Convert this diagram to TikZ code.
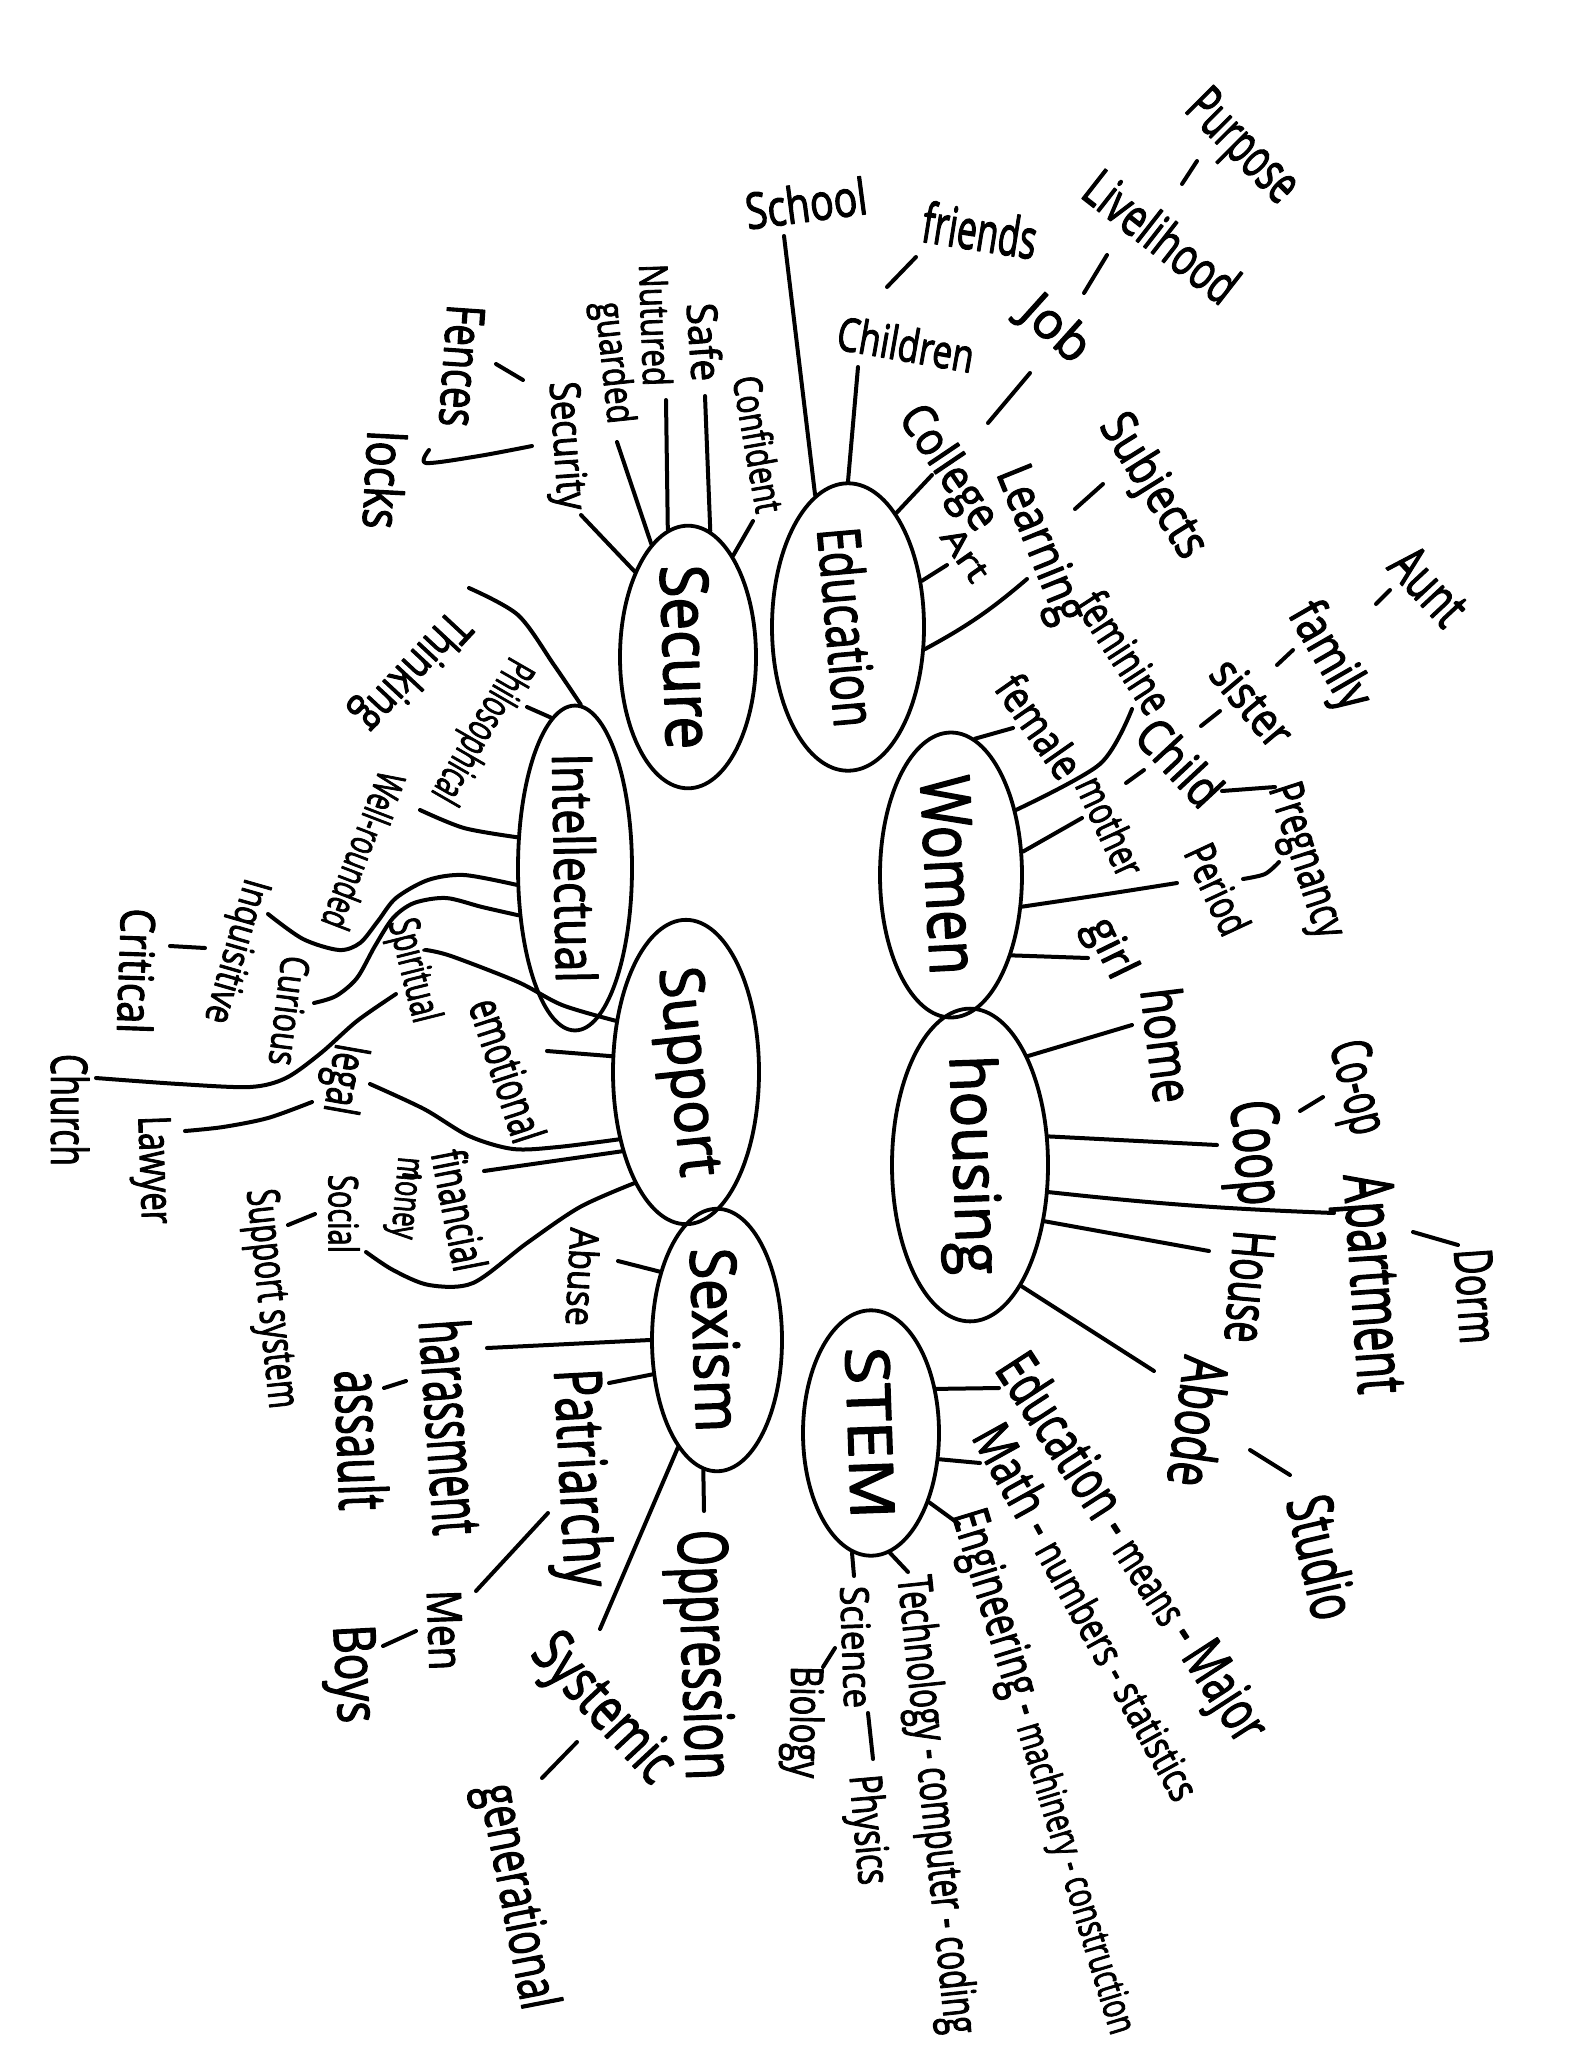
\documentclass[tikz,border=0pt]{standalone}
\usepackage{fontspec}
\setmainfont{Open Sans}[FakeBold=2.5]
\usepackage{graphicx}
\usetikzlibrary{shapes.geometric}
\newcommand{\W}[3]{\resizebox{#1pt}{#2pt}{\vphantom{l}#3}}
\begin{document}
\begin{tikzpicture}[x=1pt,y=-1pt,line width=4pt,line cap=round,line join=round,
  bub/.style={draw,ellipse,inner sep=0pt,line width=3.8pt},
  lbl/.style={inner sep=0pt}]
\fill[white] (0,0) rectangle (1570,2048);
\path[use as bounding box] (0,0) rectangle (1570,2048);

% ---------- bubbles ----------
\node[bub,minimum width=152pt,minimum height=266pt] (edu) at (848,627) {\rotatebox{-85}{\W{200}{45}{Education}}};
\node[bub,minimum width=136pt,minimum height=226pt] (sec) at (688,657) {\rotatebox{-88}{\W{184}{50}{Secure}}};
\node[bub,minimum width=114pt,minimum height=256pt] (intl) at (575,868) {\rotatebox{-89}{\W{229}{42}{Intellectual}}};
\node[bub,minimum width=142pt,minimum height=252pt] (wom) at (951,875) {\rotatebox{-87}{\W{199}{52}{Women}}};
\node[bub,minimum width=146pt,minimum height=262pt] (sup) at (686,1072) {\rotatebox{-84}{\W{210}{46}{Support}}};
\node[bub,minimum width=156pt,minimum height=282pt] (hou) at (970,1165) {\rotatebox{-88}{\W{219}{48}{housing}}};
\node[bub,minimum width=130pt,minimum height=244pt] (sex) at (717,1340) {\rotatebox{-88}{\W{184}{48}{Sexism}}};
\node[bub,minimum width=136pt,minimum height=240pt] (stem) at (871,1433) {\rotatebox{-88}{\W{172}{46}{STEM}}};

% ---------- labels: top / right ----------
\node[lbl,rotate=7.5] (school) at (806,203) {\W{122}{38}{School}};
\node[lbl,rotate=-9] (friends) at (980,230) {\W{115}{42}{friends}};
\node[lbl,rotate=-10] (children) at (906,344) {\W{138}{35}{Children}};
\node[lbl,rotate=-45] (purpose) at (1241,148) {\W{135}{42}{Purpose}};
\node[lbl,rotate=-38] (livelihood) at (1162,236) {\W{180}{40}{Livelihood}};
\node[lbl,rotate=-42] (job) at (1055,330) {\W{75}{38}{Job}};
\node[lbl,rotate=-56] (college) at (947,469) {\W{140}{36}{College}};
\node[lbl,rotate=-55] (art) at (966,554) {\W{58}{25}{Art}};
\node[lbl,rotate=-68] (learning) at (1039,545) {\W{165}{38}{Learning}};
\node[lbl,rotate=-58] (subjects) at (1152,487) {\W{160}{38}{Subjects}};
\node[lbl,rotate=-47] (aunt) at (1430,585) {\W{85}{42}{Aunt}};
\node[lbl,rotate=-60] (family) at (1328,657) {\W{115}{40}{family}};
\node[lbl,rotate=-50] (sister) at (1253,702) {\W{100}{36}{sister}};
\node[lbl,rotate=-57] (feminine) at (1125,652) {\W{135}{35}{feminine}};
\node[lbl,rotate=-55] (female) at (1040,726) {\W{115}{34}{female}};
\node[lbl,rotate=-47] (child) at (1180,762) {\W{100}{38}{Child}};
\node[lbl,rotate=-72] (pregnancy) at (1305,861) {\W{160}{36}{Pregnancy}};
\node[lbl,rotate=-65] (mother) at (1111,826) {\W{105}{32}{mother}};
\node[lbl,rotate=-65] (period) at (1218,889) {\W{95}{33}{Period}};
\node[lbl,rotate=-64] (girl) at (1109,949) {\W{62}{34}{girl}};
\node[lbl,rotate=-83] (home) at (1168,1045) {\W{115}{42}{home}};
\node[lbl,rotate=-76] (coopb) at (1355,1088) {\W{95}{42}{Co-op}};
\node[lbl,rotate=-85] (coop) at (1252,1153) {\W{105}{50}{Coop}};
\node[lbl,rotate=-86] (apartment) at (1369,1284) {\W{220}{52}{Apartment}};
\node[lbl,rotate=-86] (dorm) at (1477,1296) {\W{95}{40}{Dorm}};
\node[lbl,rotate=-95] (house) at (1251,1287) {\W{112}{44}{House}};
\node[lbl,rotate=-98] (abode) at (1199,1422) {\W{130}{47}{Abode}};
\node[lbl,rotate=-77] (studio) at (1323,1557) {\W{125}{48}{Studio}};
\node[lbl,rotate=-57] (major) at (1129,1550) {\W{450}{44}{Education - \scalebox{0.75}{means} - Major}};
\node[lbl,rotate=-61] (math) at (1090,1611) {\W{420}{40}{Math - \scalebox{0.8}{numbers - statistics}}};
\node[lbl,rotate=-73] (eng) at (1044,1772) {\W{545}{38}{Engineering - \scalebox{0.8}{machinery - construction}}};
\node[lbl,rotate=-84] (tech) at (934,1805) {\W{460}{36}{Technology - computer - coding}};
\node[lbl,rotate=-88] (science) at (857,1647) {\W{122}{30}{Science}};
\node[lbl,rotate=-85] (physics) at (866,1830) {\W{110}{34}{Physics}};
\node[lbl,rotate=-91] (biology) at (802,1722) {\W{112}{34}{Biology}};

% ---------- labels: left / bottom ----------
\node[lbl,rotate=-88] (oppression) at (700,1655) {\W{250}{52}{Oppression}};
\node[lbl,rotate=-47] (systemic) at (602,1710) {\W{180}{46}{Systemic}};
\node[lbl,rotate=-79] (generational) at (515,1897) {\W{228}{42}{generational}};
\node[lbl,rotate=-87] (patriarchy) at (577,1478) {\W{218}{50}{Patriarchy}};
\node[lbl,rotate=-88] (men) at (446,1630) {\W{80}{36}{Men}};
\node[lbl,rotate=-87] (boys) at (351,1674) {\W{98}{44}{Boys}};
\node[lbl,rotate=-86] (harassment) at (452,1427) {\W{215}{52}{harassment}};
\node[lbl,rotate=-88] (assault) at (362,1440) {\W{140}{50}{assault}};
\node[lbl,rotate=-93] (abuse) at (583,1277) {\W{98}{30}{Abuse}};
\node[lbl,rotate=-79] (financial) at (460,1210) {\W{122}{36}{financial}};
\node[lbl,rotate=-95] (money) at (405,1198) {\W{82}{29}{money}};
\node[lbl,rotate=-90] (social) at (344,1214) {\W{78}{31}{Social}};
\node[lbl,rotate=-84] (supsys) at (270,1299) {\W{220}{34}{Support system}};
\node[lbl,rotate=-88] (lawyer) at (152,1170) {\W{108}{34}{Lawyer}};
\node[lbl,rotate=-90] (church) at (70,1110) {\W{112}{38}{Church}};
\node[lbl,rotate=-100] (legal) at (342,1079) {\W{70}{36}{legal}};
\node[lbl,rotate=-72] (emotional) at (508,1070) {\W{148}{36}{emotional}};
\node[lbl,rotate=-76] (spiritual) at (412,971) {\W{105}{32}{Spiritual}};
\node[lbl,rotate=-97] (curious) at (290,1011) {\W{110}{30}{Curious}};
\node[lbl,rotate=-106] (inquisitive) at (235,951) {\W{148}{30}{Inquisitive}};
\node[lbl,rotate=-92] (critical) at (137,971) {\W{125}{36}{Critical}};
\node[lbl,rotate=-111] (wellrounded) at (364,851) {\W{165}{30}{Well-rounded}};
\node[lbl,rotate=-120] (philosophical) at (480,730) {\W{160}{32}{Philosophical}};
\node[lbl,rotate=-133] (thinking) at (410,670) {\W{145}{36}{Thinking}};
\node[lbl,rotate=-80] (confident) at (759,444) {\W{138}{30}{Confident}};
\node[lbl,rotate=-86] (safe) at (705,342) {\W{78}{32}{Safe}};
\node[lbl,rotate=-88] (nutured) at (656,325) {\W{122}{30}{Nutured}};
\node[lbl,rotate=-84] (guarded) at (612,363) {\W{122}{30}{guarded}};
\node[lbl,rotate=-86] (security) at (565,446) {\W{128}{32}{Security}};
\node[lbl,rotate=-94] (fences) at (463,366) {\W{122}{40}{Fences}};
\node[lbl,rotate=-93] (locks) at (385,480) {\W{98}{40}{locks}};

% ---------- Education connectors ----------
\draw (edu.104) -- (784,236);
\draw (edu.90) -- (858,367);
\draw (edu.67) -- (932,475);
\draw (edu.32) -- (947,565);
\draw (edu.-16) to[bend right=6] (1027,579);
\draw (887,287) -- (916,257);
\draw (988,423) -- (1030,373);
\draw (1084,293) -- (1107,255);
\draw (1182,184) -- (1197,161);
\draw (1075,509) -- (1103,484);

% ---------- Secure connectors ----------
\draw (sec.66) -- (753,521);
\draw (sec.80) -- (705,396);
\draw (sec.99) -- (666,400);
\draw (sec.108) -- (617,442);
\draw (sec.122) -- (581,515);
\draw (496,364) -- (523,380);
\draw plot[smooth] coordinates {(429,450) (426,463) (479,456) (532,446)};

% ---------- Intellectual connectors ----------
\draw plot[smooth] coordinates {(469,588) (518,615) (554,665) (intl.88)};
\draw (intl.99) -- (527,707);
\draw plot[smooth] coordinates {(420,810) (464,828) (intl.152)};
\draw plot[smooth] coordinates {(intl.196) (464,875) (428,880) (396,898) (378,921) (360,943) (339,950) (303,939) (268,914)};
\draw plot[smooth] coordinates {(intl.220) (482,907) (446,898) (414,903) (393,918) (375,946) (357,978) (336,996) (314,1003)};
\draw (170,946) -- (205,948);

% ---------- Support connectors ----------
\draw plot[smooth] coordinates {(426,950) (451,956) (518,982) (562,1005) (sup.144)};
\draw plot[smooth] coordinates {(396,994) (357,1021) (321,1053) (286,1078) (250,1087) (179,1084) (96,1078)};
\draw (sup.168) -- (547,1051);
\draw plot[smooth] coordinates {(370,1084) (424,1109) (469,1136) (513,1149) (558,1147) (sup.225)};
\draw plot[smooth] coordinates {(185,1131) (223,1127) (268,1118) (312,1102)};
\draw (sup.231) -- (484,1171);
\draw plot[smooth] coordinates {(sup.245) (580,1207) (527,1243) (473,1283) (429,1285) (393,1270) (366,1252)};
\draw (288,1225) -- (315,1214);
\draw (404,1175) -- (420,1177);

% ---------- Sexism connectors ----------
\draw (sex.130) -- (618,1261);
\draw (sex.180) -- (487,1348);
\draw (384,1388) -- (406,1381);
\draw (sex.208) -- (609,1383);
\draw (476,1591) -- (548,1513);
\draw (383,1646) -- (416,1631);
\draw (sex.250) -- (600,1629);
\draw (542,1778) -- (577,1742);
\draw (sex.264) -- (704,1511);

% ---------- STEM connectors ----------
\draw (stem.34) -- (999,1388);
\draw (stem.-21) -- (980,1463);
\draw (stem.-50) -- (959,1524);
\draw (stem.-81) -- (908,1572);
\draw (stem.-99) -- (854,1576);
\draw (868,1713) -- (873,1759);
\draw (823,1667) -- (835,1648);

% ---------- housing connectors ----------
\draw (hou.62) -- (1132,1025);
\draw (1300,1111) -- (1323,1097);
\draw (hou.20) -- (1217,1145);
\draw (hou.-19) to[bend right=2] (1334,1213);
\draw (1413,1232) -- (1458,1245);
\draw (hou.-37) -- (1209,1251);
\draw (hou.-67) -- (1154,1371);
\draw (1250,1450) -- (1290,1475);

% ---------- Women connectors ----------
\draw (wom.80) -- (1013,728);
\draw plot[smooth] coordinates {(wom.45) (1100,764) (1132,709)};
\draw (1126,783) -- (1144,770);
\draw (1222,791) -- (1275,787);
\draw plot[smooth] coordinates {(1243,879) (1265,874) (1279,862)};
\draw (1277,665) -- (1293,650);
\draw (1201,726) -- (1220,711);
\draw (1376,604) -- (1390,590);
\draw (wom.18) -- (1082,818);
\draw plot[smooth] coordinates {(wom.-24) (1107,894) (1177,883)};
\draw (wom.-53) -- (1088,958);
\end{tikzpicture}
\end{document}
